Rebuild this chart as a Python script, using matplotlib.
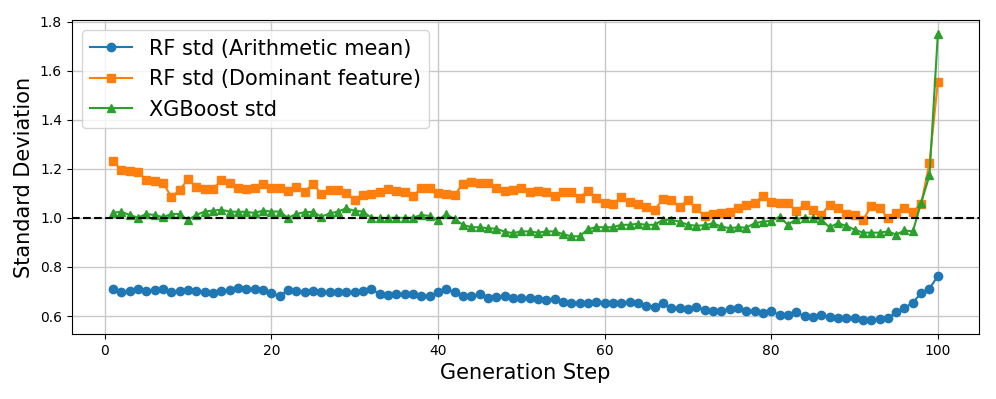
import numpy as np
import matplotlib
matplotlib.use('Agg')
import matplotlib.pyplot as plt

# generation steps 1..100
steps = list(range(1, 101))

rf_mean_std = [
    0.709, 0.696, 0.700, 0.709, 0.700, 0.706, 0.709, 0.699, 0.700, 0.706,
    0.700, 0.696, 0.693, 0.700, 0.706, 0.713, 0.709, 0.709, 0.706, 0.693,
    0.682, 0.706, 0.703, 0.699, 0.703, 0.696, 0.696, 0.696, 0.696, 0.699,
    0.703, 0.711, 0.689, 0.686, 0.689, 0.689, 0.689, 0.682, 0.682, 0.696,
    0.709, 0.696, 0.682, 0.680, 0.689, 0.672, 0.676, 0.682, 0.675, 0.672,
    0.672, 0.669, 0.665, 0.669, 0.659, 0.655, 0.652, 0.652, 0.659, 0.653,
    0.652, 0.653, 0.659, 0.652, 0.642, 0.638, 0.652, 0.632, 0.631, 0.628,
    0.638, 0.626, 0.622, 0.622, 0.628, 0.631, 0.622, 0.620, 0.612, 0.620,
    0.604, 0.605, 0.616, 0.599, 0.596, 0.603, 0.596, 0.592, 0.592, 0.592,
    0.585, 0.585, 0.588, 0.592, 0.615, 0.632, 0.655, 0.693, 0.712, 0.763,
]

rf_dom_std = [
    1.234, 1.194, 1.190, 1.187, 1.156, 1.150, 1.144, 1.086, 1.113, 1.158,
    1.127, 1.116, 1.117, 1.154, 1.144, 1.124, 1.119, 1.120, 1.137, 1.120,
    1.124, 1.109, 1.127, 1.106, 1.140, 1.097, 1.113, 1.113, 1.100, 1.073,
    1.093, 1.097, 1.104, 1.117, 1.110, 1.104, 1.090, 1.120, 1.120, 1.103,
    1.096, 1.093, 1.140, 1.147, 1.143, 1.144, 1.120, 1.110, 1.113, 1.120,
    1.104, 1.110, 1.106, 1.090, 1.106, 1.106, 1.083, 1.110, 1.080, 1.059,
    1.057, 1.084, 1.064, 1.055, 1.046, 1.032, 1.077, 1.073, 1.046, 1.073,
    1.039, 1.008, 1.016, 1.021, 1.026, 1.039, 1.053, 1.062, 1.089, 1.066,
    1.062, 1.059, 1.030, 1.053, 1.033, 1.012, 1.053, 1.039, 1.016, 1.012,
    0.990, 1.048, 1.041, 1.000, 1.021, 1.039, 1.026, 1.057, 1.225, 1.553,
]

xgb_std = [
    1.021, 1.025, 1.012, 1.001, 1.016, 1.012, 1.003, 1.016, 1.016, 0.992,
    1.012, 1.026, 1.030, 1.033, 1.026, 1.025, 1.025, 1.020, 1.030, 1.026,
    1.026, 1.000, 1.016, 1.023, 1.025, 1.005, 1.018, 1.026, 1.039, 1.029,
    1.026, 1.001, 1.000, 1.000, 1.001, 1.000, 1.001, 1.012, 1.008, 0.992,
    1.015, 0.995, 0.972, 0.962, 0.962, 0.958, 0.956, 0.944, 0.938, 0.945,
    0.945, 0.940, 0.945, 0.945, 0.934, 0.925, 0.925, 0.954, 0.962, 0.962,
    0.962, 0.972, 0.972, 0.976, 0.972, 0.972, 0.992, 0.992, 0.985, 0.972,
    0.968, 0.970, 0.978, 0.965, 0.958, 0.962, 0.960, 0.978, 0.985, 0.988,
    1.005, 0.972, 0.995, 1.001, 1.000, 0.992, 0.962, 0.978, 0.968, 0.952,
    0.940, 0.940, 0.940, 0.945, 0.932, 0.949, 0.945, 1.062, 1.174, 1.749,
]

fig, ax = plt.subplots(figsize=(9.96, 3.99), dpi=100)
fig.subplots_adjust(left=0.072, right=0.983, top=0.95, bottom=0.163)

ax.plot(steps, rf_mean_std, marker='o', markersize=6, label='RF std (Arithmetic mean)')
ax.plot(steps, rf_dom_std, marker='s', markersize=6, label='RF std (Dominant feature)')
ax.plot(steps, xgb_std, marker='^', markersize=6, label='XGBoost std')
ax.axhline(1.0, color='black', linestyle='--', lw=1.5)

ax.set_xlabel('Generation Step', fontsize=15)
ax.set_ylabel('Standard Deviation', fontsize=15)
ax.grid(True, color='#c8c8c8', lw=1)
ax.legend(loc='upper left', fontsize=15)

plt.savefig('out.png')
